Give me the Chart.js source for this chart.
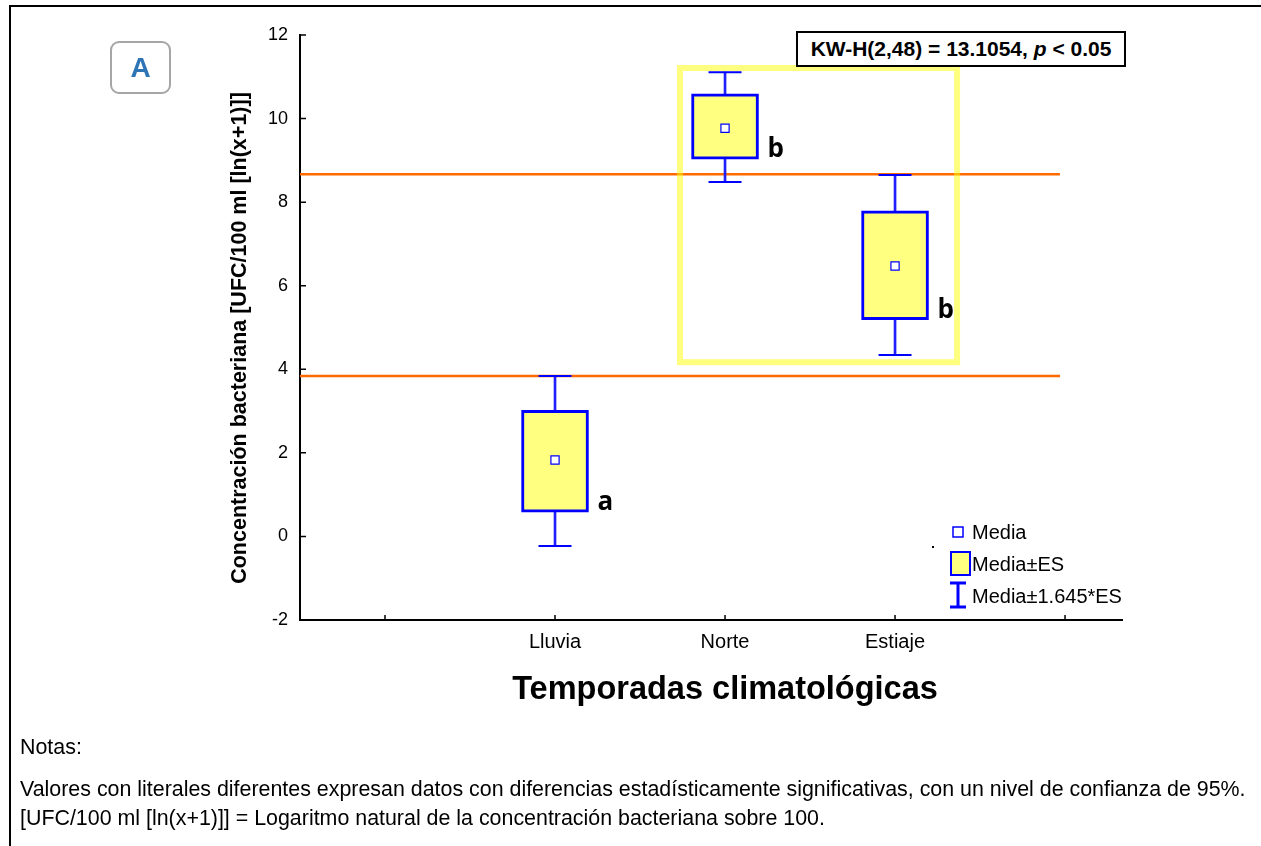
<!DOCTYPE html>
<html>
<head>
<meta charset="utf-8">
<script src="https://cdn.jsdelivr.net/npm/chart.js@4.4.1/dist/chart.umd.min.js"></script>
<style>
body{margin:0;background:#fff;overflow:hidden;font-family:Arial,"Liberation Sans",sans-serif;color:#000;}
#wrap{position:relative;width:1261px;height:846px;overflow:hidden;}
#frame{position:absolute;left:9px;top:5px;width:1400px;height:1000px;border-top:2px solid #000;border-left:2px solid #000;}
canvas{position:absolute;left:0;top:0;}
#panel{position:absolute;left:110px;top:41px;width:57px;height:49px;border:2px solid #a6a6a6;border-radius:9px;color:#2e75b6;font-weight:bold;font-size:28px;display:flex;align-items:center;justify-content:center;}
#kw{position:absolute;left:796px;top:31px;width:326px;height:32px;border:2px solid #000;background:#fff;font-weight:bold;font-size:21px;display:flex;align-items:center;justify-content:center;white-space:nowrap;}
.note{position:absolute;left:20px;font-size:21.4px;line-height:25px;white-space:nowrap;}
</style>
</head>
<body>
<div id="wrap">
  <div id="frame"></div>
  <canvas id="chart" width="1261" height="846"></canvas>
  <div id="panel">A</div>
  <div id="kw">KW-H(2,48) = 13.1054,&nbsp;<i>p</i>&nbsp;&lt; 0.05</div>
  <div class="note" style="top:735px">Notas:</div>
  <div class="note" style="top:777px">Valores con literales diferentes expresan datos con diferencias estadísticamente significativas, con un nivel de confianza de 95%.</div>
  <div class="note" style="top:806px">[UFC/100 ml [ln(x+1)]] = Logaritmo natural de la concentración bacteriana sobre 100.</div>
</div>
<script>
// categories and positions on the x axis
var categories = ['Lluvia', 'Norte', 'Estiaje'];
var catX = [2, 3, 4];
var xTicks = [1, 2, 3, 4, 5];

// values
var means  = [1.83, 9.77, 6.47];
var esLow  = [0.58, 9.03, 5.19];
var esHigh = [3.02, 10.59, 7.79];
var ciLow  = [-0.23, 8.48, 4.34];
var ciHigh = [3.84, 11.11, 8.65];
var groupLetters = ['a', 'b', 'b'];

// reference lines and the highlighted group
var refLines = [3.84, 8.67];
var refLineX = [0.5, 4.97];
var highlightX = [2.735, 4.365];
var highlightY = [4.17, 11.21];

var yTitle = 'Concentración bacteriana [UFC/100 ml [ln(x+1)]]';
var xTitle = 'Temporadas climatológicas';
var BLUE = '#0000ff';
var BOX_W = 67;

function pts(vals) {
    return catX.map(function (x, i) { return {x: x, y: vals[i]}; });
}

var datasets = [
    {
        type: 'scatter', label: 'Media', data: pts(means),
        pointStyle: 'rect', pointRadius: 5.8, backgroundColor: '#fff',
        borderColor: BLUE, borderWidth: 1.2, order: 0
    },
    {
        type: 'scatter', label: 'caps', data: pts(ciHigh).concat(pts(ciLow)),
        pointStyle: 'line', pointRadius: 16.5, borderColor: BLUE, borderWidth: 2, order: 1
    },
    {
        type: 'bar', label: 'Media±ES',
        data: catX.map(function (x, i) { return {x: x, y: [esLow[i], esHigh[i]]}; }),
        backgroundColor: '#ffff80', borderColor: BLUE, borderWidth: 3, borderSkipped: false,
        barThickness: BOX_W, grouped: false, order: 2
    },
    {
        type: 'bar', label: 'Media±1.645*ES',
        data: catX.map(function (x, i) { return {x: x, y: [ciLow[i], ciHigh[i]]}; }),
        backgroundColor: '#2020ff', borderWidth: 0, barThickness: 2, grouped: false, order: 3
    }
];
refLines.forEach(function (v) {
    datasets.push({
        type: 'line', data: refLineX.map(function (x) { return {x: x, y: v}; }),
        borderColor: '#ff6a00', borderWidth: 2.5, pointRadius: 0, order: 4
    });
});

var overlay = {
    id: 'overlay',
    afterDatasetsDraw: function (chart) {
        var ctx = chart.ctx, x = chart.scales.x, y = chart.scales.y;
        ctx.save();
        // highlighted group
        ctx.strokeStyle = 'rgba(255,255,0,0.5)';
        ctx.lineWidth = 6;
        var x0 = x.getPixelForValue(highlightX[0]), x1 = x.getPixelForValue(highlightX[1]);
        var y0 = y.getPixelForValue(highlightY[1]), y1 = y.getPixelForValue(highlightY[0]);
        ctx.strokeRect(x0, y0, x1 - x0, y1 - y0);
        // group letters
        ctx.fillStyle = '#000';
        ctx.font = '700 26px "Open Sans"';
        ctx.textBaseline = 'alphabetic';
        groupLetters.forEach(function (l, i) {
            ctx.fillText(l, x.getPixelForValue(catX[i]) + BOX_W / 2 + 9, y.getPixelForValue(esLow[i]) - 2);
        });
        ctx.restore();
    },
    afterDraw: function (chart) {
        var ctx = chart.ctx, x = chart.scales.x, y = chart.scales.y;
        ctx.save();
        // inner ticks
        ctx.strokeStyle = '#000';
        ctx.lineWidth = 1.5;
        ctx.beginPath();
        y.ticks.forEach(function (t) {
            var py = y.getPixelForValue(t.value);
            ctx.moveTo(x.left, py); ctx.lineTo(x.left + 6, py);
        });
        x.ticks.forEach(function (t) {
            var px = x.getPixelForValue(t.value);
            ctx.moveTo(px, y.bottom); ctx.lineTo(px, y.bottom - 5);
        });
        ctx.stroke();
        // axis titles
        ctx.fillStyle = '#000';
        ctx.textAlign = 'center';
        ctx.textBaseline = 'middle';
        ctx.font = 'bold 32.5px Arial, "Liberation Sans"';
        ctx.fillText(xTitle, 725, 690);
        ctx.save();
        ctx.translate(240, 338);
        ctx.rotate(-Math.PI / 2);
        ctx.font = 'bold 21.5px Arial, "Liberation Sans"';
        ctx.fillText(yTitle, 0, 0);
        ctx.restore();
        // legend
        ctx.textAlign = 'left';
        ctx.font = '20px Arial, "Liberation Sans"';
        ctx.fillStyle = '#fff';
        ctx.strokeStyle = BLUE;
        ctx.lineWidth = 1.5;
        ctx.fillRect(953, 527, 10, 10);
        ctx.strokeRect(953, 527, 10, 10);
        ctx.fillStyle = '#ffff80';
        ctx.lineWidth = 2;
        ctx.fillRect(951, 552, 19, 23);
        ctx.strokeRect(951, 552, 19, 23);
        ctx.lineWidth = 3;
        ctx.beginPath();
        ctx.moveTo(958, 583); ctx.lineTo(958, 607);
        ctx.moveTo(950, 583); ctx.lineTo(966, 583);
        ctx.moveTo(950, 607); ctx.lineTo(966, 607);
        ctx.stroke();
        ctx.fillStyle = '#000';
        ctx.fillText('Media', 972, 533);
        ctx.fillText('Media±ES', 972, 565);
        ctx.fillText('Media±1.645*ES', 972, 597);
        ctx.fillRect(932, 546, 2, 2);
        ctx.restore();
    }
};

new Chart(document.getElementById('chart'), {
    type: 'bar',
    data: {datasets: datasets},
    options: {
        responsive: false,
        animation: false,
        events: [],
        layout: {padding: {left: 223, top: 35, right: 139, bottom: 136}},
        plugins: {legend: {display: false}, tooltip: {enabled: false}},
        scales: {
            x: {
                type: 'linear', min: 0.5, max: 5.335, offset: false,
                afterBuildTicks: function (s) { s.ticks = xTicks.map(function (v) { return {value: v}; }); },
                afterFit: function (s) { s.height = 90; },
                grid: {display: false},
                border: {display: true, color: '#000', width: 2},
                ticks: {
                    color: '#000', padding: 2, maxRotation: 0, autoSkip: false,
                    font: {family: 'Arial, "Liberation Sans"', size: 20},
                    callback: function (v) { var i = catX.indexOf(v); return i >= 0 ? categories[i] : ''; }
                },
                title: {display: false}
            },
            y: {
                min: -2, max: 12,
                afterFit: function (s) { s.width = 77; },
                grid: {display: false},
                border: {display: true, color: '#000', width: 2},
                ticks: {
                    stepSize: 2, color: '#000', padding: 4,
                    font: {family: 'Arial, "Liberation Sans"', size: 18}
                },
                title: {display: false}
            }
        }
    },
    plugins: [overlay]
});
</script>
</body>
</html>
